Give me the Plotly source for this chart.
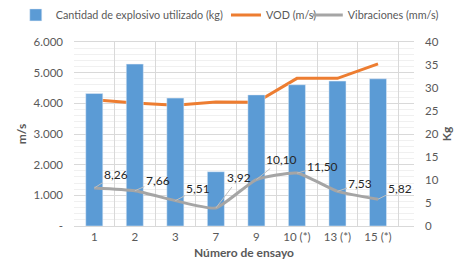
import plotly.graph_objects as go

ensayos = ["1", "2", "3", "7", "9", "10 (*)", "13 (*)", "15 (*)"]
explosivo_kg = [28.8, 35.2, 27.8, 11.8, 28.5, 30.7, 31.5, 32.0]
vod_ms = [4120, 4010, 3935, 4040, 4035, 4815, 4815, 5285]
vibraciones = [8.26, 7.66, 5.51, 3.92, 10.10, 11.50, 7.53, 5.82]
vib_labels = ["8,26", "7,66", "5,51", "3,92", "10,10", "11,50", "7,53", "5,82"]

left_ticks = [0, 1000, 2000, 3000, 4000, 5000, 6000]
left_text = ["-", "1.000", "2.000", "3.000", "4.000", "5.000", "6.000"]

# label offsets (pixels) for the data labels
label_dx = [22, 23, 23, 23, 25, 26, 23, 22]
label_dy = [-14, -10, -12, -30, -20, -7, -8, -11]

grey = "#595959"
font = "Lato, 'Open Sans', sans-serif"

fig = go.Figure()

fig.add_trace(
    go.Bar(
        x=ensayos,
        y=explosivo_kg,
        name="Cantidad de explosivo utilizado (kg)",
        marker=dict(color="#5B9BD5"),
        yaxis="y2",
        legend="legend"
    )
)

fig.add_trace(
    go.Scatter(
        x=ensayos,
        y=vod_ms,
        name="VOD (m/s)",
        mode="lines",
        line=dict(color="#ED7D31", width=3),
        legend="legend2"
    )
)

fig.add_trace(
    go.Scatter(
        x=ensayos,
        y=vibraciones,
        name="Vibraciones (mm/s)",
        mode="lines",
        line=dict(color="#A5A5A5", width=3, shape="spline", smoothing=0.5),
        yaxis="y2",
        legend="legend3"
    )
)

annotations = []
for i in range(len(ensayos)):
    annotations.append(
        dict(
            x=i,
            y=vibraciones[i],
            xref="x",
            yref="y2",
            text=vib_labels[i],
            showarrow=True,
            arrowhead=0,
            arrowwidth=1,
            arrowcolor="#BFBFBF",
            ax=label_dx[i],
            ay=label_dy[i],
            font=dict(size=12, color="#262626", family=font)
        )
    )


def legend_box(x):
    return dict(
        orientation="h",
        xref="container",
        yref="container",
        x=x,
        xanchor="left",
        y=0.974,
        yanchor="middle",
        font=dict(size=10.8, color=grey),
        itemwidth=30,
        bgcolor="rgba(0,0,0,0)"
    )


fig.update_layout(
    width=457,
    height=265,
    margin=dict(l=66, r=51, t=34, b=47, autoexpand=False),
    paper_bgcolor="white",
    plot_bgcolor="white",
    font=dict(family=font, size=11, color=grey),
    bargap=0.58,
    annotations=annotations,
    showlegend=True,
    legend=legend_box(0.017),
    legend2=legend_box(0.477),
    legend3=legend_box(0.656),
    xaxis=dict(
        tickson="boundaries",
        tickangle=0,
        showgrid=True,
        gridcolor="#D9D9D9",
        ticks="",
        showline=True,
        linecolor="#D9D9D9",
        mirror=True,
        tickfont=dict(size=11.5, color=grey),
        title=dict(
            text="<b>Número de ensayo</b>",
            font=dict(size=12, color=grey),
            standoff=6
        )
    ),
    yaxis=dict(
        range=[0, 6000],
        tickvals=left_ticks,
        ticktext=left_text,
        showgrid=True,
        gridcolor="#D9D9D9",
        zeroline=False,
        minor=dict(dtick=200, showgrid=True, gridcolor="#F0F0F0"),
        tickfont=dict(size=11.5, color=grey),
        ticklabelstandoff=10,
        title=dict(
            text="<b>m/s</b>",
            font=dict(size=12, color=grey),
            standoff=4
        )
    ),
    yaxis2=dict(
        range=[0, 40],
        dtick=5,
        overlaying="y",
        side="right",
        showgrid=False,
        zeroline=False,
        tickfont=dict(size=11.5, color=grey),
        ticklabelstandoff=10,
        title=dict(
            text="<b>Kg</b>",
            font=dict(size=12, color=grey),
            standoff=0
        )
    )
)

fig.write_html("out.html")
